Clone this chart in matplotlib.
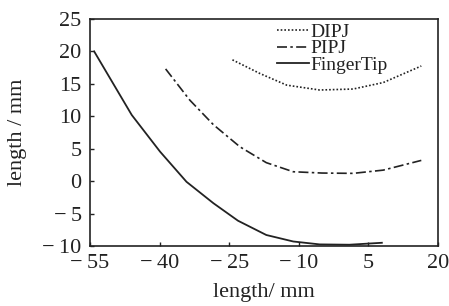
import matplotlib
matplotlib.use("Agg")
import matplotlib.pyplot as plt
from matplotlib.ticker import FuncFormatter

plt.rcParams['font.family'] = ['Liberation Serif', 'DejaVu Serif']
plt.rcParams['axes.unicode_minus'] = True

# data
dipj_x = [-24.3, -18.4, -12.6, -5.5, 1.7, 8.2, 16.4]
dipj_y = [18.7, 16.6, 14.8, 14.05, 14.2, 15.2, 17.75]

pipj_x = [-38.7, -33.5, -28.4, -22.7, -17.0, -11.2, -5.0, 1.7, 8.2, 16.4]
pipj_y = [17.3, 12.5, 8.7, 5.3, 2.85, 1.45, 1.25, 1.2, 1.7, 3.2]

tip_x = [-54.1, -46.0, -39.9, -34.2, -28.4, -23.1, -17.0, -11.2, -5.5, 0.9, 7.9]
tip_y = [20.0, 10.2, 4.55, -0.1, -3.4, -6.1, -8.3, -9.3, -9.75, -9.8, -9.5]

xticks = [-55, -40, -25, -10, 5, 20]
yticks = [-10, -5, 0, 5, 10, 15, 20, 25]

ink = '#222222'


def fmt(v, pos):
    # minus sign with a thin gap, as in the printed figure
    if v < 0:
        return '\u2212\u2009%d' % abs(v)
    return '%d' % v


fig = plt.figure(figsize=(4.49, 3.06), dpi=100)
ax = fig.add_axes([0.2004, 0.196, 0.7751, 0.742])

ax.plot(dipj_x, dipj_y, linestyle=(0, (1, 1.2)), color=ink, linewidth=1.2, label='DIPJ')
ax.plot(pipj_x, pipj_y, linestyle=(0, (6, 2, 1.5, 2)), color=ink, linewidth=1.2, label='PIPJ')
ax.plot(tip_x, tip_y, '-', color=ink, linewidth=1.3, label='FingerTip')

ax.set_xlim(-55, 20)
ax.set_ylim(-10, 25)
ax.set_xticks(xticks)
ax.set_yticks(yticks)
ax.xaxis.set_major_formatter(FuncFormatter(fmt))
ax.yaxis.set_major_formatter(FuncFormatter(fmt))
ax.tick_params(direction='in', length=3, width=1, labelsize=16,
               top=False, right=False, colors=ink)
ax.tick_params(axis='x', pad=6)
ax.tick_params(axis='y', pad=6)
for s in ax.spines.values():
    s.set_linewidth(1.2)
    s.set_color(ink)

ax.set_xlabel('length/ mm', fontsize=16, color=ink, labelpad=7)
ax.set_ylabel('length / mm', fontsize=16, color=ink, labelpad=11)

leg = ax.legend(loc='upper left', bbox_to_anchor=(0.537, 0.98), frameon=False, fontsize=14,
                handlelength=1.65, handletextpad=0.05, labelspacing=-0.07,
                borderpad=0, borderaxespad=0)
for t in leg.get_texts():
    t.set_color(ink)

fig.savefig('out.png', dpi=100)
